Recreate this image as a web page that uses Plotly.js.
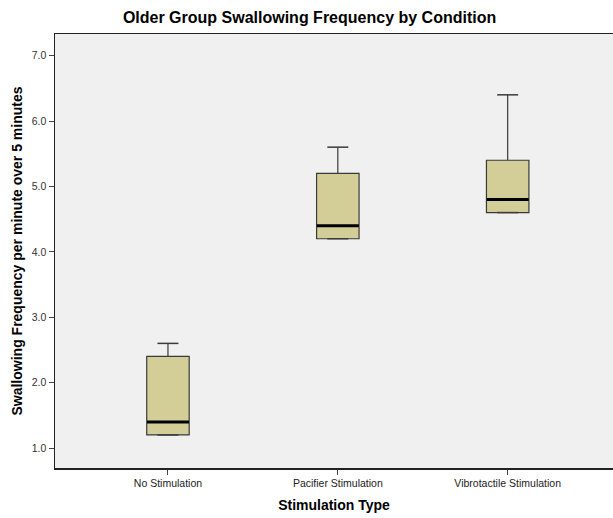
<!DOCTYPE html>
<html>
<head>
<meta charset="utf-8">
<script src="https://cdn.plot.ly/plotly-3.0.1.min.js"></script>
<style>html,body{margin:0;padding:0;background:#fff;}#chart{width:613px;height:518px;}</style>
</head>
<body>
<div id="chart"></div>
<script>
const categories = ["No Stimulation", "Pacifier Stimulation", "Vibrotactile Stimulation"];
const lowerWhisker = [1.2, 4.2, 4.6];
const q1 = [1.2, 4.2, 4.6];
const median = [1.4, 4.4, 4.8];
const q3 = [2.4, 5.2, 5.4];
const upperWhisker = [2.6, 5.6, 6.4];
const yTicks = [1, 2, 3, 4, 5, 6, 7];
const yTickLabels = ["1.0", "2.0", "3.0", "4.0", "5.0", "6.0", "7.0"];

const idx = categories.map((c, i) => i);

const traces = [
  {
    type: "box",
    x: idx,
    q1: q1,
    median: median,
    q3: q3,
    lowerfence: lowerWhisker,
    upperfence: upperWhisker,
    width: 0.25,
    fillcolor: "#d3ce97",
    line: { color: "#3a3a3a", width: 1.2 },
    whiskerwidth: 0,
    boxpoints: false,
    hoverinfo: "skip",
    showlegend: false
  },
  {
    type: "scatter",
    mode: "markers",
    x: idx.concat(idx),
    y: upperWhisker.concat(lowerWhisker),
    marker: { symbol: "line-ew-open", size: 15, color: "#3a3a3a", line: { color: "#3a3a3a", width: 1.5 } },
    hoverinfo: "skip",
    showlegend: false
  },
  {
    type: "scatter",
    mode: "markers",
    x: idx,
    y: median,
    marker: { symbol: "line-ew-open", size: 30, color: "#000000", line: { color: "#000000", width: 3 } },
    hoverinfo: "skip",
    showlegend: false
  }
];

const layout = {
  width: 613,
  height: 518,
  margin: { l: 55, r: 0, t: 34, b: 50 },
  paper_bgcolor: "#ffffff",
  plot_bgcolor: "#f0f0f0",
  font: { family: "Liberation Sans, Arial, sans-serif", color: "#222" },
  title: {
    text: "<b>Older Group Swallowing Frequency by Condition</b>",
    font: { size: 16, color: "#000" },
    x: 0.505, xanchor: "center", y: 0.967, yanchor: "middle"
  },
  xaxis: {
    tickmode: "array",
    tickvals: idx,
    ticktext: categories,
    range: [-0.665, 2.62],
    showgrid: false,
    zeroline: false,
    showline: true,
    linecolor: "#222",
    linewidth: 1.5,
    mirror: true,
    ticks: "outside",
    ticklen: 5,
    tickcolor: "#444",
    tickfont: { size: 10.5, color: "#222" },
    title: { text: "<b>Stimulation Type</b>", font: { size: 14, color: "#000" }, standoff: 12 }
  },
  yaxis: {
    range: [0.695, 7.33],
    tickmode: "array",
    tickvals: yTicks,
    ticktext: yTickLabels,
    showgrid: false,
    zeroline: false,
    showline: true,
    linecolor: "#222",
    linewidth: 1.5,
    ticks: "outside",
    ticklen: 5,
    tickcolor: "#444",
    tickfont: { size: 10.5, color: "#333" },
    title: { text: "<b>Swallowing Frequency per minute over 5 minutes</b>", font: { size: 14, color: "#000" }, standoff: 6 }
  }
};

Plotly.newPlot("chart", traces, layout, { displayModeBar: false, staticPlot: true });
</script>
</body>
</html>
